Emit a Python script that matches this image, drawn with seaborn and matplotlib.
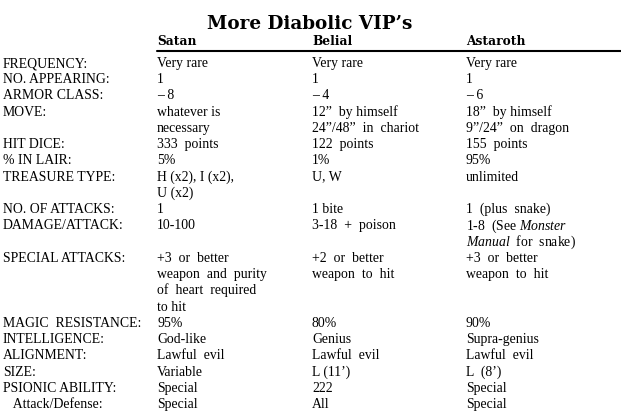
import matplotlib
matplotlib.use("Agg")
import matplotlib.pyplot as plt
import seaborn as sns

# table content
title = "More Diabolic VIP’s"
names = ["Satan", "Belial", "Astaroth"]
labels = ["FREQUENCY:", "NO. APPEARING:", "ARMOR CLASS:", "MOVE:", "HIT DICE:",
          "% IN LAIR:", "TREASURE TYPE:", "NO. OF ATTACKS:", "DAMAGE/ATTACK:",
          "SPECIAL ATTACKS:", "MAGIC  RESISTANCE:", "INTELLIGENCE:",
          "ALIGNMENT:", "SIZE:", "PSIONIC ABILITY:", "   Attack/Defense:"]
satan = ["Very rare", "1", "– 8", "whatever is\nnecessary", "333  points", "5%",
         "H (x2), I (x2),\nU (x2)", "1", "10-100",
         "+3  or  better\nweapon  and  purity\nof  heart  required\nto hit",
         "95%", "God-like", "Lawful  evil", "Variable", "Special", "Special"]
belial = ["Very rare", "1", "– 4", "12”  by himself\n24”/48”  in  chariot",
          "122  points", "1%", "U, W", "1 bite", "3-18  +  poison",
          "+2  or  better\nweapon  to  hit", "80%", "Genius", "Lawful  evil",
          "L (11’)", "222", "All"]
astaroth = ["Very rare", "1", "– 6", "18”  by himself\n9”/24”  on  dragon",
            "155  points", "95%", "unlimited", "1  (plus  snake)",
            "1-8  (See $\\mathit{Monster}$\n$\\mathit{Manual}$  for  snake)",
            "+3  or  better\nweapon  to  hit", "90%", "Supra-genius",
            "Lawful  evil", "L  (8’)", "Special", "Special"]

sns.set_style("white")
plt.rcParams["font.family"] = ["Liberation Serif", "DejaVu Serif"]
plt.rcParams["text.color"] = "black"
plt.rcParams["mathtext.fontset"] = "custom"
plt.rcParams["mathtext.rm"] = "Liberation Serif"
plt.rcParams["mathtext.it"] = "Liberation Serif:italic"

fig = plt.figure(figsize=(6.21, 4.16), dpi=100)
ax = fig.add_axes([0, 0, 1, 1])
ax.set_xlim(0, 621)
ax.set_ylim(416, 0)
ax.axis("off")

fs = 9.9
line_h = 16.24
col_x = [157, 312, 466]

ax.text(310, 29, title, ha="center", va="baseline", fontsize=13.2,
        fontweight="bold", family="DejaVu Serif")
for x, n in zip(col_x, names):
    ax.text(x, 45, n, ha="left", va="baseline", fontsize=8.8,
            fontweight="bold", family="DejaVu Serif")
ax.plot([157, 621], [50.5, 50.5], color="black", lw=1.5)

y = 67
for i, lab in enumerate(labels):
    cells = [satan[i], belial[i], astaroth[i]]
    nlines = max(c.count("\n") + 1 for c in cells)
    ax.text(3, y, lab, ha="left", va="baseline", fontsize=fs)
    for x, c in zip(col_x, cells):
        for k, part in enumerate(c.split("\n")):
            ax.text(x, y + k * line_h, part, ha="left", va="baseline", fontsize=fs)
    y += nlines * line_h

fig.savefig("out.png", dpi=100)
